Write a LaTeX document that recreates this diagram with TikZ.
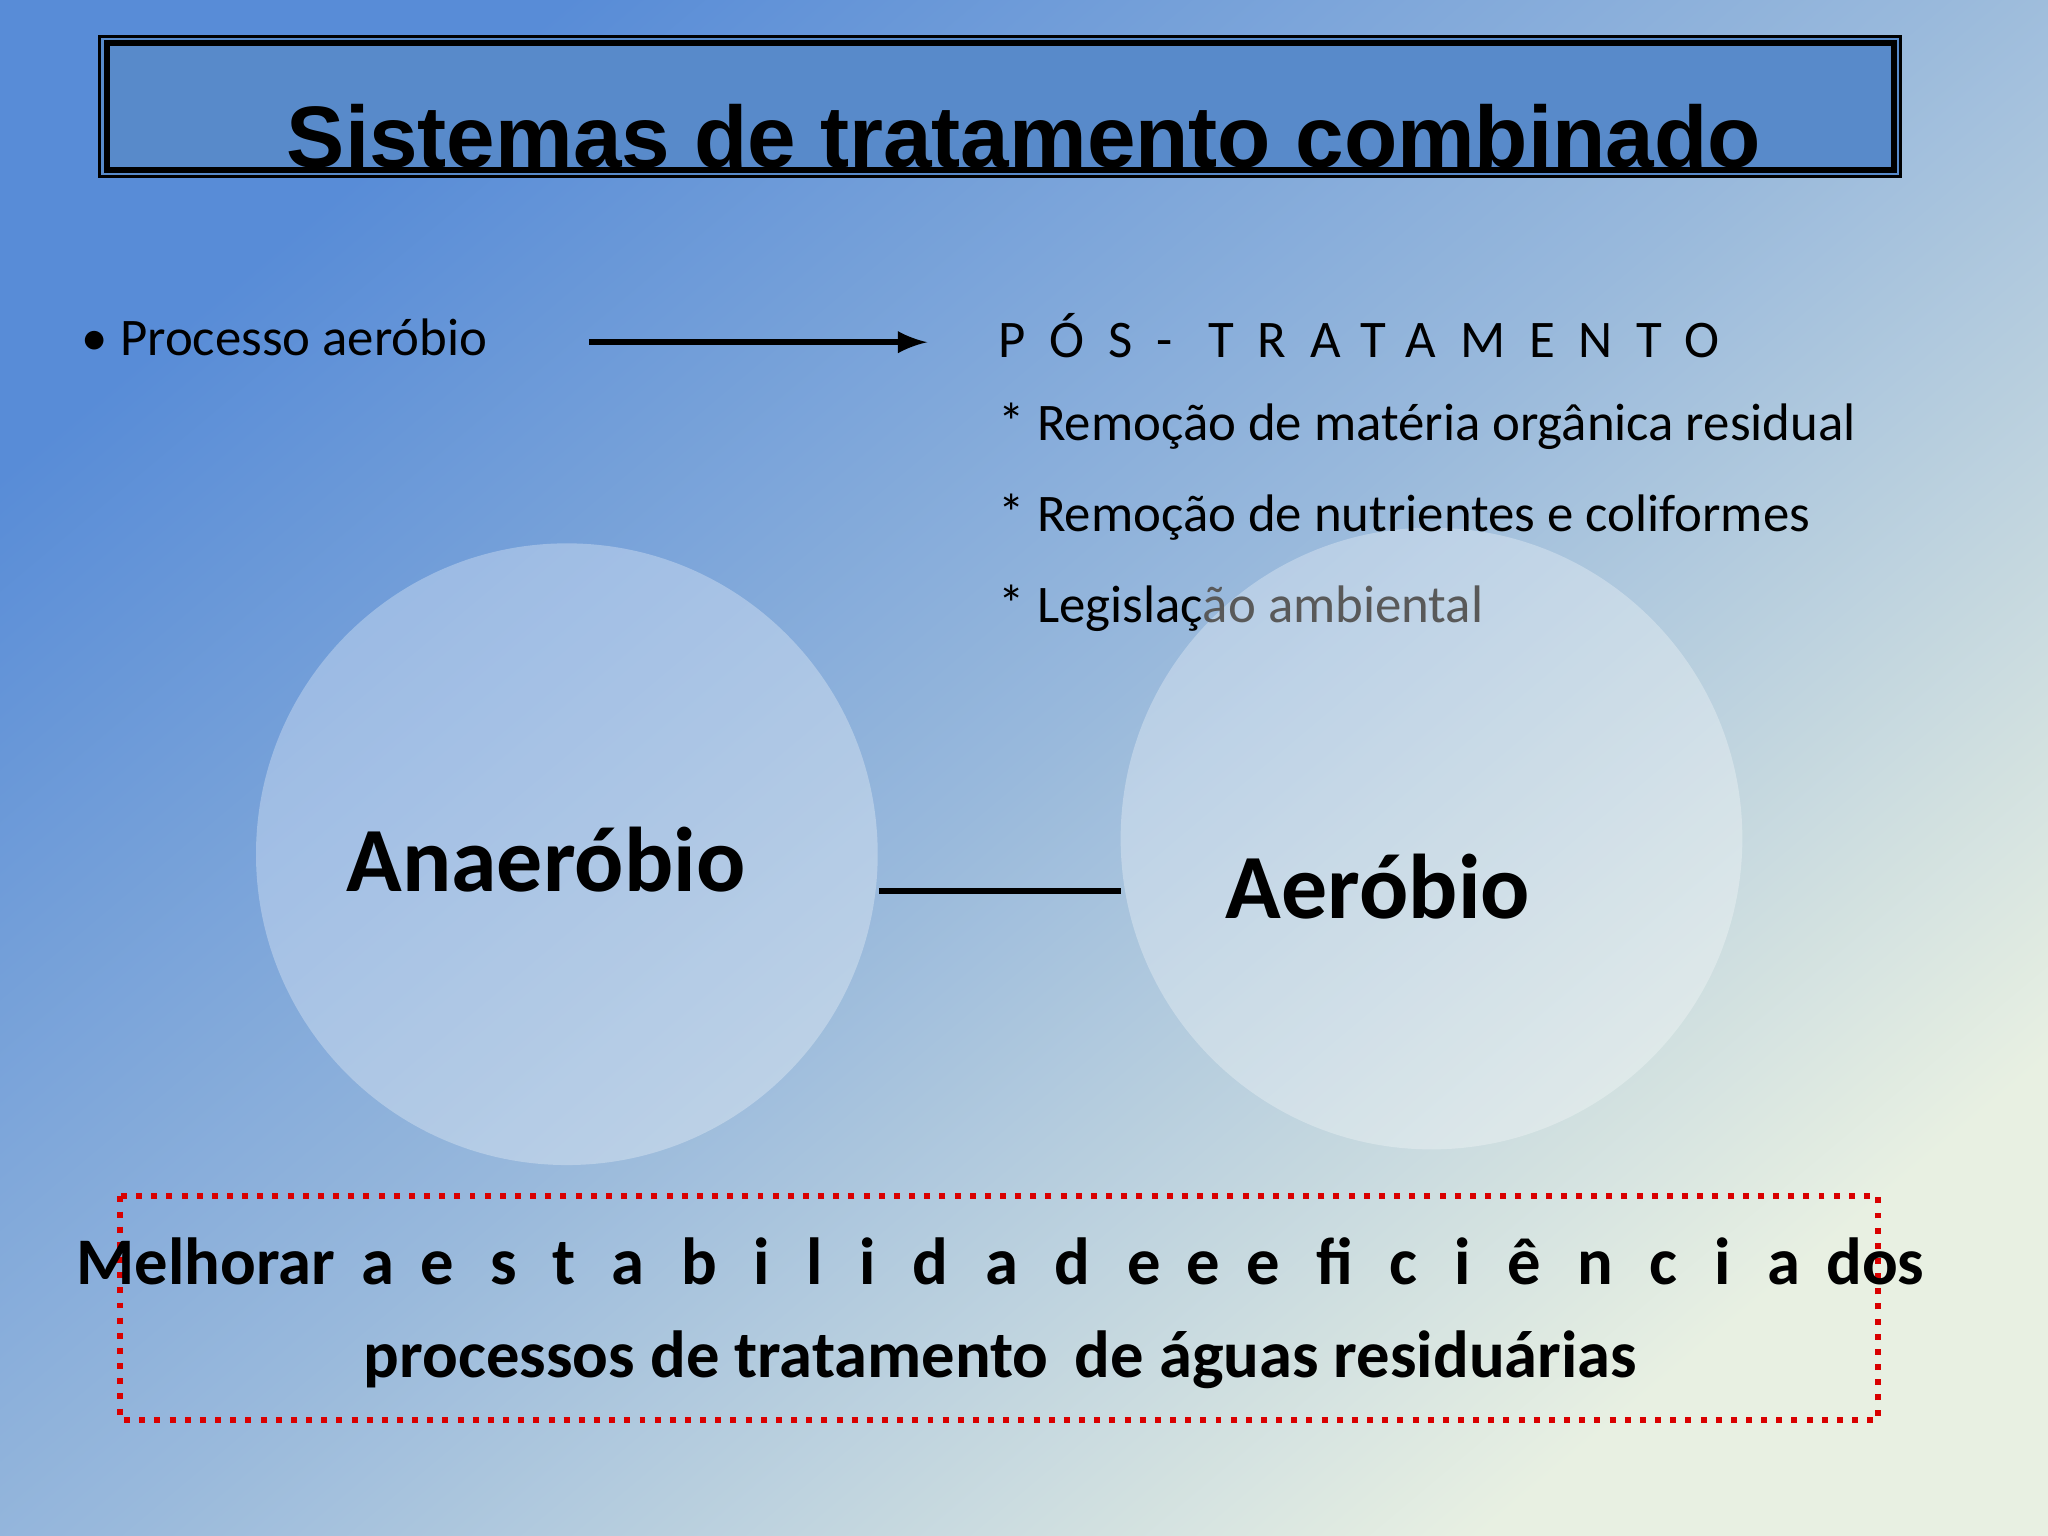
\documentclass[tikz,border=0pt]{standalone}
\usepackage{fontspec}
\usetikzlibrary{shadings}
\setmainfont{Carlito}
\newfontfamily\titlefont{Liberation Sans}
\definecolor{bgA}{RGB}{88,140,215}
\definecolor{bgD}{RGB}{232,240,226}
\definecolor{titlebg}{RGB}{88,138,202}
\begin{document}
\begin{tikzpicture}[x=0.01cm,y=-0.01cm,
  body/.style={font=\fontsize{11.5pt}{14pt}\selectfont,anchor=west,inner sep=0},
  big/.style={font=\fontsize{20pt}{24pt}\selectfont\bfseries,inner sep=0}]
\useasboundingbox (0,0) rectangle (1568,1176);
\shade[top color=bgA,bottom color=bgD,middle color=bgA!55!bgD,shading angle=40]
  (0,0) rectangle (1568,1176);
% title
\fill[titlebg] (76,28) rectangle (1455,135);
\draw[black,line width=0.6pt] (76,28) rectangle (1455,135);
\draw[black,line width=1.3pt] (82,33) rectangle (1450,130);
\begin{scope}
\clip (82,33) rectangle (1450,128);
\node[font=\titlefont\fontsize{19pt}{22pt}\selectfont\bfseries,inner sep=0] (title) at (784,104) {Sistemas de tratamento combinado};
\end{scope}
% circles
\fill[white,opacity=0.3] (434,654) circle (238);
\fill[white,opacity=0.3] (1096,642) circle (238);
\node[big] (ana) at (418,658) {Anaeróbio};
\node[big] (aer) at (1055,679) {Aeróbio};
\coordinate (l1) at (673,682); \coordinate (l2) at (858,682);
\draw[line width=1.4pt] (l1) -- (l2);
% top text
\node[body] (proc) at (62,258) {• Processo aeróbio};
\coordinate (a1) at (451,262); \coordinate (a2) at (710,262);
\draw[line width=1.2pt,-latex] (a1) -- (a2);
\node[body] (pos) at (764,257) {\addfontfeature{LetterSpace=45}PÓS- TRATAMENTO};
\node[body] (r1) at (764,326) {* Remoção de matéria orgânica residual};
\node[body] (r2) at (764,396) {* Remoção de nutrientes e coliformes};
\node[body] (r3) at (764,466) {* Legislaç\textcolor{black!65}{ão ambiental}};
% bottom box
\draw[red!85!black,line width=1.3pt,dotted] (92,916) rectangle (1438,1087);
\node[font=\fontsize{14.5pt}{18pt}\selectfont\bfseries,inner sep=0] (m1) at (766,966)
  {Melhorar\, a \,{\addfontfeature{LetterSpace=55}estabilidade}\, e \,{\addfontfeature{LetterSpace=55}eficiência}\, dos};
\node[font=\fontsize{14.5pt}{18pt}\selectfont\bfseries,inner sep=0] (m2) at (766,1041)
  {processos de tratamento\, de águas residuárias};
\end{tikzpicture}
\end{document}
